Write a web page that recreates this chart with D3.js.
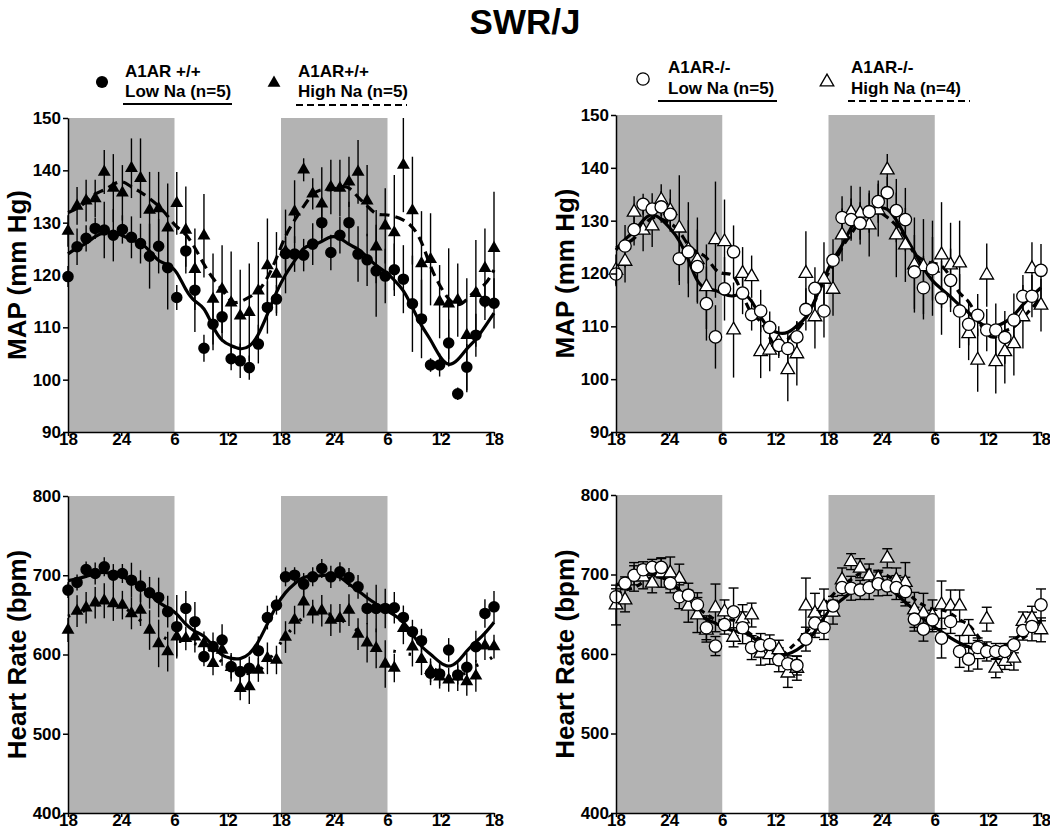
<!doctype html>
<html lang="en">
<head>
  <meta charset="utf-8">
  <title>SWR/J</title>
  <script src="https://cdnjs.cloudflare.com/ajax/libs/d3/7.8.5/d3.min.js"></script>
  <style>
    body { margin:0; background:#fff; }
    svg text { font-family:"Liberation Sans", Arial, sans-serif; font-weight:bold; fill:#000; }
    .axis path, .axis line { stroke:#000; stroke-width:1.5; }
    .axis text { font-size:17px; font-weight:bold; font-family:"Liberation Sans", Arial, sans-serif; }
  </style>
</head>
<body>
  <svg width="1050" height="830"></svg>
  <script>
  // hourly readings (48 per series), 18:00 day 1 -> 18:00 day 3
  const hourLabels = ["18","24","6","12","18","24","6","12","18"];
  const darkPeriods = [[0,12],[24,36]];
  const mapTicks = [90,100,110,120,130,140,150];
  const hrTicks = [400,500,600,700,800];

  // MAP, A1AR +/+
  const mapWtLow = [119.7,125.4,127,128.9,128.6,127.6,128.7,127.2,126,123.6,125.5,121.4,115.7,124.6,117.1,106,110.6,112,104,103.6,102.3,106.8,113.8,115.4,124.1,124,123.8,125.9,130,124.3,127.6,130,124,122.9,120.8,119.8,121,119.2,114.5,111.6,102.8,102.8,107,97.3,102.4,108.5,115,114.6];
  const mapWtLowErr = [2,3.5,2.5,2,5.4,5,2.7,4,3.8,6.2,5.2,8,2.4,3,8,2.6,5,4.7,2.2,3.3,2.3,3.7,5,2.7,3.2,3.4,3.1,4,3,3.4,3.5,4,5.3,5,8.8,5.2,5,6.5,9.2,7.5,1.3,2.2,4.5,1.2,4.4,4.1,3.6,4.8];
  const mapWtHigh = [128.4,133.2,134.2,134.6,139.7,136.6,135.7,140.4,138.5,132.4,132.7,129,133.7,128.6,121.1,127.5,115.4,117.3,114.7,112.2,112.9,117,121.8,120.2,124.5,132.1,140.1,135.5,133.6,136.8,136.6,137.8,139.7,134.2,125.4,129.4,128.1,141,132.3,122.2,123,114.9,114.5,115.2,108.5,116.5,121.3,125.1];
  const mapWtHighErr = [3,3.6,4,3.6,4.2,6.5,5.3,5.7,7.6,7.3,7,8.5,6,8.3,7.8,8,8.7,8.4,9.8,8.8,9.3,9.3,9,8,8,6,2.2,3,7,5.2,5.4,4.8,6.1,6.8,7,7.2,11,9,10.3,10,8.8,7,10.6,7,10.9,10.2,7.6,10.8];

  // MAP, A1AR -/-
  const mapKoLow = [119.9,125.2,128.3,133.1,132.2,132.6,131.2,122.8,124.1,121.3,114.3,108,117.1,124.1,116.3,112.2,112.9,109.8,106.4,105.8,108,113.2,117.2,112.9,122.5,130.6,130.2,129.5,131.7,133.6,135.3,131.9,130.2,120.3,117.3,120.9,115.4,118.7,112.9,110.4,112.1,109.3,109.3,107.9,111.2,115.7,115.7,120.6];
  const mapKoLowErr = [2,4,3,2,3,3,3,5,6,7,7,6,6,5,4,3,4,3,2,3,3,4,4,5,4,4,4,4,4,4,3,6,6,7,6,6,7,6,7,4,4,4,5,5,5,4,4,5];
  const mapKoHigh = [120.6,122.3,131.6,128.2,129,133.9,131.9,128.6,124.5,122.6,117.5,126.4,126,109.3,120,119.4,105.2,105.5,107,101.8,104.8,120,111.8,118.9,117,127.3,131.6,131.4,129.2,132,139.6,127.3,125.4,121.6,121.3,121,123.5,121.6,122,108.6,103.6,119.7,103.3,105.2,106.7,111.8,120.9,114];
  const mapKoHighErr = [3,4,3,4,4,3,4,10,9,8,8,11,8,9,5,4,5,4,3,6,6,8,6,7,5,5,5,5,6,5,3,8,7,9,9,9,10,8,8,5,6,6,6,6,6,6,5,5];

  // Heart rate, A1AR +/+
  const hrWtLow = [681.2,690.9,707.2,702.2,710.6,700.1,702.2,693.8,686.3,677.9,672,654,635.1,658.1,641.4,597.3,609.9,618.3,584.7,578.4,582.6,604.8,646.6,662.3,698,700.1,688.8,698,708.5,698,704.3,697.2,685.4,658.1,658.1,658.1,659,646.8,628.8,617.4,576.3,575.5,605.7,574.2,583.9,609.9,651.8,660.2];
  const hrWtLowErr = [10,10,10,14,12,14,12,22,20,20,25,20,40,22,25,12,18,20,15,15,15,18,15,12,12,10,14,12,12,14,12,12,15,20,30,25,20,15,15,15,15,15,15,12,18,20,18,20];
  const hrWtHigh = [630.9,654.8,659,665.3,667.8,664.4,662.3,651.8,656,630.9,614,603.6,622.5,620.4,622.5,614,588.9,605.7,583.9,557.4,559.5,580.5,595.2,593.1,622,643.5,666.5,654,655.2,643.5,645.6,656,625.8,614.9,607.8,588,583,633,609.9,594,580,572,568,572,566,573,611,610];
  const hrWtHighErr = [15,20,20,20,22,22,18,20,20,25,30,25,25,15,20,15,15,20,18,15,22,15,20,18,20,18,20,15,20,20,18,20,20,25,25,30,18,20,25,20,15,15,15,18,18,20,18,15];

  // Heart rate, A1AR -/-
  const hrKoLow = [672,689,699,706,709,709,689,672,674,662,633,610,637,653,633,608,610.7,612,592.7,587.7,585.6,618.7,638.8,633.3,660.5,683.6,682.7,680.6,683.6,688.2,685.7,683.6,678.5,643.8,631.2,643,620,640.9,603.2,593.5,608.2,603.2,603.2,603.2,611.5,629.5,634.6,661.8];
  const hrKoLowErr = [10,8,12,10,10,12,12,15,15,15,15,12,12,30,20,15,15,12,15,10,12,15,18,15,12,10,15,12,15,15,12,15,18,15,15,12,25,15,20,15,12,12,10,10,10,12,18,20];
  const hrKoHigh = [661.6,668,697,697,689,702,702,695,660,649,630,658,653,621,644,649,601,599,605.3,576,582,660.5,651.3,659.7,652.6,693.2,716.2,707.9,698.2,695.3,720.4,693.2,690,655.5,651.3,648,661.8,660.5,660.5,628.3,599,643.8,582.2,590.6,594.8,640.9,645,630.4];
  const hrKoHighErr = [25,15,18,15,12,18,20,18,20,22,15,30,15,12,18,15,15,12,12,18,15,35,25,22,15,15,10,12,15,10,12,15,25,22,25,20,30,20,20,15,18,15,12,10,15,12,15,15];

  const svg = d3.select("svg");

  // running mean used for the trend lines
  function smooth(arr){
    return arr.map((v,i)=>{
      const w = arr.slice(Math.max(0,i-2), Math.min(arr.length,i+3));
      return d3.mean(w);
    });
  }

  const panels = [
    {x:68, y:118, w:426, h:314, dom:[90,150], ticks:mapTicks, label:"MAP (mm Hg)",
     low:mapWtLow, lowErr:mapWtLowErr, high:mapWtHigh, highErr:mapWtHighErr, open:false, caps:false, dash:"10,6"},
    {x:616, y:115, w:425, h:317, dom:[90,150], ticks:mapTicks, label:"MAP (mm Hg)",
     low:mapKoLow, lowErr:mapKoLowErr, high:mapKoHigh, highErr:mapKoHighErr, open:true, caps:false, dash:"9,5"},
    {x:68, y:496, w:426, h:317, dom:[400,800], ticks:hrTicks, label:"Heart Rate (bpm)",
     low:hrWtLow, lowErr:hrWtLowErr, high:hrWtHigh, highErr:hrWtHighErr, open:false, caps:false, dash:"2.5,13"},
    {x:616, y:495, w:425, h:318, dom:[400,800], ticks:hrTicks, label:"Heart Rate (bpm)",
     low:hrKoLow, lowErr:hrKoLowErr, high:hrKoHigh, highErr:hrKoHighErr, open:true, caps:true, dash:"6,5"}
  ];

  svg.append("text")
    .attr("x",525).attr("y",34)
    .attr("text-anchor","middle")
    .style("font-size","35px")
    .text("SWR/J");

  panels.forEach(p=>{
    const g = svg.append("g").attr("transform",`translate(${p.x},${p.y})`);
    const xHr = d3.scaleLinear().domain([0,48]).range([0,p.w]);
    const xPt = d3.scaleLinear().domain([0,p.low.length-1]).range([0,p.w]);
    const y = d3.scaleLinear().domain(p.dom).range([p.h,0]).clamp(true);

    g.selectAll(".dark").data(darkPeriods).enter().append("rect")
      .attr("x",d=>xHr(d[0])).attr("width",d=>xHr(d[1])-xHr(d[0]))
      .attr("y",0).attr("height",p.h)
      .attr("fill","#b3b3b3");

    const series = [
      {vals:p.high, err:p.highErr, shape:"tri", dash:p.dash},
      {vals:p.low, err:p.lowErr, shape:"circ", dash:null}
    ];

    // error bars
    series.forEach(s=>{
      const eg = g.append("g");
      s.vals.forEach((v,i)=>{
        const cx = xPt(i);
        eg.append("line").attr("x1",cx).attr("x2",cx)
          .attr("y1",y(v-s.err[i])).attr("y2",y(v+s.err[i]))
          .attr("stroke","#000").attr("stroke-width",1.4);
        if(p.caps){
          [v-s.err[i], v+s.err[i]].forEach(e=>{
            eg.append("line").attr("x1",cx-5).attr("x2",cx+5)
              .attr("y1",y(e)).attr("y2",y(e))
              .attr("stroke","#000").attr("stroke-width",1.4);
          });
        }
      });
    });

    // trend lines
    const line = d3.line().x((d,i)=>xPt(i)).y(d=>y(d)).curve(d3.curveBasis);
    series.forEach(s=>{
      g.append("path").datum(smooth(s.vals))
        .attr("d",line)
        .attr("fill","none").attr("stroke","#000")
        .attr("stroke-width",3.2)
        .attr("stroke-dasharray",s.dash);
    });

    // markers
    series.forEach(s=>{
      const sym = s.shape==="tri"
        ? d3.symbol().type(d3.symbolTriangle).size(p.open?80:72)
        : d3.symbol().type(d3.symbolCircle).size(p.open?120:105);
      g.selectAll(null).data(s.vals).enter().append("path")
        .attr("d",sym)
        .attr("transform",(d,i)=>`translate(${xPt(i)},${y(d)})`)
        .attr("fill",p.open?"#fff":"#000")
        .attr("stroke","#000").attr("stroke-width",p.open?1.3:0);
    });

    g.append("g").attr("class","axis")
      .call(d3.axisLeft(y).tickValues(p.ticks).tickSize(5).tickSizeOuter(0).tickPadding(2));
    g.append("g").attr("class","axis")
      .attr("transform",`translate(0,${p.h})`)
      .call(d3.axisBottom(xHr).tickValues(d3.range(0,49,6)).tickFormat((d,i)=>hourLabels[i])
        .tickSize(4).tickSizeOuter(0).tickPadding(-3));

    g.append("text")
      .attr("transform",`translate(-42,${p.h/2}) rotate(-90)`)
      .attr("text-anchor","middle")
      .style("font-size","26px")
      .text(p.label);
  });

  // legends
  const legends = [
    {mx:102, my:82, tx:125, t1:"A1AR +/+", t2:"Low Na (n=5)", b1:77, b2:97, ux:[123,232], uy:104, shape:"circ", open:false, dash:null},
    {mx:274, my:83, tx:298, t1:"A1AR+/+", t2:"High Na (n=5)", b1:77, b2:97, ux:[296,407], uy:105, shape:"tri", open:false, dash:"7,4"},
    {mx:643, my:79, tx:668, t1:"A1AR-/-", t2:"Low Na (n=5)", b1:73, b2:94, ux:[658,777], uy:101, shape:"circ", open:true, dash:null},
    {mx:827, my:82, tx:851, t1:"A1AR-/-", t2:"High Na (n=4)", b1:73, b2:94, ux:[848,970], uy:101, shape:"tri", open:true, dash:"7,4"}
  ];
  legends.forEach(l=>{
    const sym = l.shape==="tri"
      ? d3.symbol().type(d3.symbolTriangle).size(l.open?80:72)
      : d3.symbol().type(d3.symbolCircle).size(l.open?120:115);
    svg.append("path").attr("d",sym)
      .attr("transform",`translate(${l.mx},${l.my})`)
      .attr("fill",l.open?"#fff":"#000")
      .attr("stroke","#000").attr("stroke-width",l.open?1.3:0);
    svg.append("text").attr("x",l.tx).attr("y",l.b1).style("font-size","17px").text(l.t1);
    svg.append("text").attr("x",l.tx).attr("y",l.b2).style("font-size","17px").text(l.t2);
    svg.append("line").attr("x1",l.ux[0]).attr("x2",l.ux[1]).attr("y1",l.uy).attr("y2",l.uy)
      .attr("stroke","#000").attr("stroke-width",2.2).attr("stroke-dasharray",l.dash);
  });
  </script>
</body>
</html>
